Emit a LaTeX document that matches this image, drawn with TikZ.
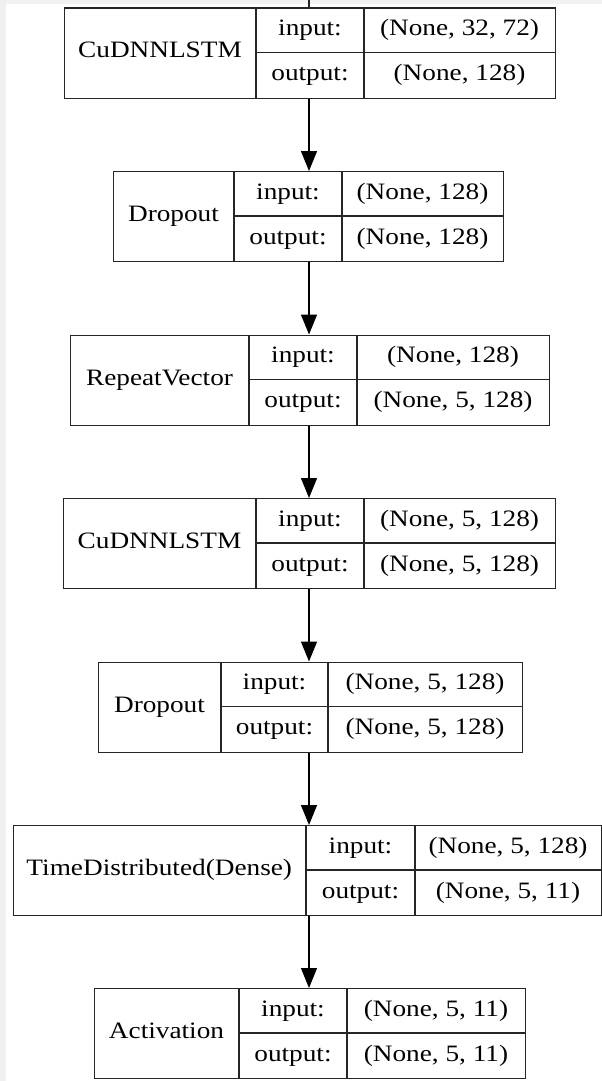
\documentclass[tikz,border=0pt]{standalone}
\usepackage{fontspec}
\usepackage{graphicx}
\setmainfont{Liberation Serif}
\usetikzlibrary{arrows.meta}
\tikzset{
  boxframe/.style={draw=black!85, line width=1.4pt, inner sep=0pt, anchor=north west},
  cell/.style={draw=black!85, line width=1.4pt},
  txt/.style={inner sep=0pt, text height=16pt, text depth=5pt, font=\fontsize{23.5}{28}\selectfont},
  conn/.style={draw=black, line width=1.4pt, -{Triangle[length=20pt,width=16pt]}},
}
\newcommand\sx[1]{\scalebox{1.16}[1]{#1}}
% name, top, left, c1, c2, right, label, in, out
\newcommand\layerbox[9]{%
  \node[boxframe, minimum width={(#6-#3)*1pt}, minimum height=90pt] (#1) at (#3,#2) {};
  \draw[cell] (#4,#2) -- (#4,{#2+90});
  \draw[cell] (#5,#2) -- (#5,{#2+90});
  \draw[cell] (#4,{#2+45}) -- (#6,{#2+45});
  \node[txt] (#1-l) at ({(#3+#4)/2},{#2+45}) {\sx{#7}};
  \node[txt] (#1-ik) at ({(#4+#5)/2},{#2+22.5}) {\sx{input:}};
  \node[txt] (#1-ok) at ({(#4+#5)/2},{#2+67.5}) {\sx{output:}};
  \node[txt] (#1-iv) at ({(#5+#6)/2},{#2+22.5}) {\sx{#8}};
  \node[txt] (#1-ov) at ({(#5+#6)/2},{#2+67.5}) {\sx{#9}};
}
\begin{document}
\begin{tikzpicture}[x=1pt,y=-1pt]
  \useasboundingbox (0,0) rectangle (602,1081);
  \fill[black!6] (0,0) rectangle (6,1081);
  \fill[black!5] (6,0) rectangle (602,4);
  \coordinate (ax) at (309,0);
  \layerbox{b1}{7.5}{64}{256}{364}{555}{CuDNNLSTM}{(None, 32, 72)}{(None, 128)}
  \layerbox{b2}{171}{113}{234}{342}{503}{Dropout}{(None, 128)}{(None, 128)}
  \layerbox{b3}{334.5}{70}{249}{357}{549}{RepeatVector}{(None, 128)}{(None, 5, 128)}
  \layerbox{b4}{498}{63}{256}{364}{555}{CuDNNLSTM}{(None, 5, 128)}{(None, 5, 128)}
  \layerbox{b5}{661.5}{98}{221}{328}{522}{Dropout}{(None, 5, 128)}{(None, 5, 128)}
  \layerbox{b6}{825}{12.5}{306}{415}{601}{TimeDistributed(Dense)}{(None, 5, 128)}{(None, 5, 11)}
  \layerbox{b7}{988}{94}{239}{347}{525}{Activation}{(None, 5, 11)}{(None, 5, 11)}
  \draw[cell] (ax) -- (b1.north -| ax);
  \draw[conn] (b1.south -| ax) -- (b2.north -| ax);
  \draw[conn] (b2.south -| ax) -- (b3.north -| ax);
  \draw[conn] (b3.south -| ax) -- (b4.north -| ax);
  \draw[conn] (b4.south -| ax) -- (b5.north -| ax);
  \draw[conn] (b5.south -| ax) -- (b6.north -| ax);
  \draw[conn] (b6.south -| ax) -- (b7.north -| ax);
\end{tikzpicture}
\end{document}
